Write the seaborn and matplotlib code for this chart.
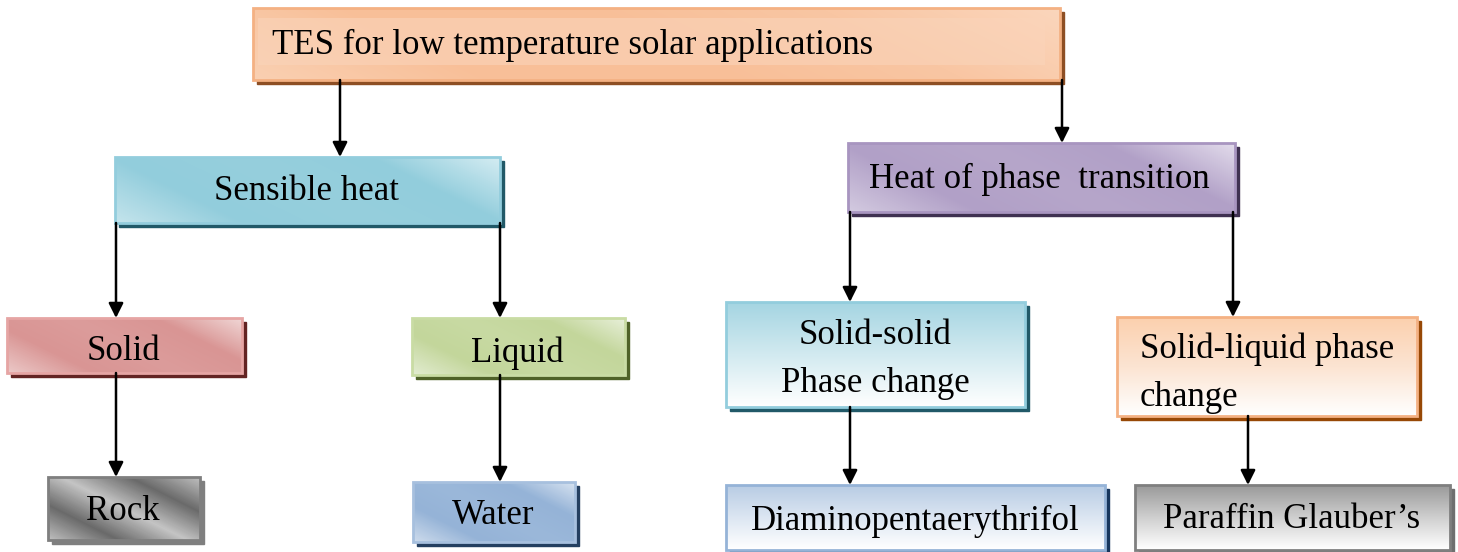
import seaborn as sns
import matplotlib.pyplot as plt
import numpy as np
from matplotlib.patches import Rectangle

# node labels and tree structure
node_ids = ["tes", "sensible", "phase", "solid", "liquid", "ss", "sl",
            "rock", "water", "diamino", "paraffin"]
node_labels = ["TES for low temperature solar applications", "Sensible heat",
               "Heat of phase  transition", "Solid", "Liquid",
               "Solid-solid\nPhase change", "Solid-liquid phase\nchange",
               "Rock", "Water", "Diaminopentaerythrifol", "Paraffin Glauber\u2019s"]
edges = [("tes", "sensible"), ("tes", "phase"),
         ("sensible", "solid"), ("sensible", "liquid"),
         ("phase", "ss"), ("phase", "sl"),
         ("solid", "rock"), ("liquid", "water"),
         ("ss", "diamino"), ("sl", "paraffin")]

# layout in pixels: x0, y0, width, height
layout = {
    "tes": (253, 8, 807, 72),
    "sensible": (115, 157, 385, 66),
    "phase": (848, 143, 387, 69),
    "solid": (7, 318, 235, 55),
    "liquid": (412, 318, 213, 57),
    "ss": (726, 302, 299, 105),
    "sl": (1117, 317, 300, 99),
    "rock": (48, 477, 152, 63),
    "water": (413, 482, 162, 60),
    "diamino": (726, 485, 379, 65),
    "paraffin": (1135, 485, 315, 65),
}
# arrow x position (from parent bottom to child top)
arrow_x = {"sensible": 340, "phase": 1062, "solid": 116, "liquid": 500,
           "ss": 850, "sl": 1233, "rock": 116, "water": 500,
           "diamino": 850, "paraffin": 1248}

# style: gradient stops, border, shadow, gradient kind
styles = {
    "tes": (["#FAD0B2", "#F8BF98", "#F8BF98", "#F9C6A3", "#FBD6BC"], "#F4B183", "#8E4F24", "diag"),
    "sensible": (["#C4E4EC", "#92CDDC", "#96CFDD", "#92CDDC", "#D4ECF2"], "#93CDDD", "#215968", "diag"),
    "phase": (["#D3CAE0", "#B1A0C7", "#B6A6CA", "#B1A0C7", "#E2DBEB"], "#A895C0", "#3F3151", "diag"),
    "solid": (["#EBC8C7", "#D99594", "#DC9C9B", "#D99594", "#F0D6D5"], "#E6A5A4", "#632423", "diag"),
    "liquid": (["#E2ECD0", "#C3D69B", "#C8DAA3", "#C3D69B", "#E7EFD8"], "#C9DCA4", "#4F6228", "diag"),
    "ss": (["#A5D5E2", "#D2EAF0", "#FFFFFF"], "#93CDDD", "#215968", "vert"),
    "sl": (["#FBD0AE", "#FCE4D2", "#FFFFFF"], "#F4B183", "#974806", "vert"),
    "rock": (["#BEBEBE", "#6A6A6A", "#C4C4C4", "#6A6A6A", "#BEBEBE"], "#7F7F7F", "#7F7F7F", "diag"),
    "water": (["#CDDBEC", "#95B3D7", "#9BB8DA", "#95B3D7", "#D6E2F0"], "#A7C0DE", "#243F60", "diag"),
    "diamino": (["#B8CCE4", "#DCE6F2", "#FFFFFF"], "#95B3D7", "#17365D", "vert"),
    "paraffin": (["#9A9A9A", "#CFCFCF", "#FFFFFF"], "#7F7F7F", "#6F6F6F", "vert"),
}
# text anchor and clip bottom
text_pos = {
    "tes": (272, 45, "left"), "sensible": (307, 191, "center"),
    "phase": (1039, 179, "center"), "solid": (123, 351, "center"),
    "liquid": (517, 353, "center"), "ss": (875, 359, "center"),
    "sl": (1140, 373, "left"), "rock": (123, 512, "center"),
    "water": (493, 516, "center"), "diamino": (915, 521, "center"),
    "paraffin": (1292, 520, "center"),
}
text_clip = {"liquid": 362, "ss": 393, "sl": 404}

sns.set_theme(style="white")
plt.rcParams["font.family"] = ["Liberation Serif", "DejaVu Serif"]

fig = plt.figure(figsize=(14.58, 5.52), dpi=100)
ax = fig.add_axes([0, 0, 1, 1])
ax.set_xlim(0, 1458)
ax.set_ylim(552, 0)
ax.axis("off")


def gradient(w, h, kind):
    xx, yy = np.meshgrid(np.linspace(0, 1, int(w)), np.linspace(0, 1, int(h)))
    if kind == "vert":
        return yy
    # 0 at lower left, 1 at upper right
    t = (xx * w + (1 - yy) * h * 2.0) / (w + h * 2.0)
    return np.clip(t, 0, 1)


def draw_box(key, label):
    x0, y0, w, h = layout[key]
    stops, border, shadow, kind = styles[key]
    ax.add_patch(Rectangle((x0 + 4, y0 + 4), w, h, color=shadow, zorder=1))
    cmap = sns.blend_palette(stops, as_cmap=True)
    g = gradient(w, h, kind)
    img = ax.imshow(g, cmap=cmap, vmin=0, vmax=1,
                    extent=(x0, x0 + w, y0 + h, y0),
                    aspect="auto", zorder=2, interpolation="bilinear")
    img.set_clip_path(Rectangle((x0, y0), w, h, transform=ax.transData))
    ax.add_patch(Rectangle((x0, y0), w, h, fill=False, edgecolor=border,
                           lw=2, zorder=3))
    if key == "tes":
        ax.add_patch(Rectangle((x0 + 5, y0 + 10), w - 20, h - 25,
                               color="#FAD4BA", alpha=0.6, zorder=2.5, lw=0))
    tx, ty, ha = text_pos[key]
    txt = ax.text(tx, ty, label, ha=ha, va="center", fontsize=25,
                  color="black", zorder=4, linespacing=1.6)
    bottom = text_clip.get(key, y0 + h)
    txt.set_clip_path(Rectangle((x0, y0), w, bottom - y0, transform=ax.transData))


for key, label in zip(node_ids, node_labels):
    draw_box(key, label)

for parent, child in edges:
    px, py, pw, ph = layout[parent]
    cx, cy, cw, ch = layout[child]
    x = arrow_x[child]
    ax.annotate("", xy=(x, cy), xytext=(x, py + ph),
                arrowprops=dict(arrowstyle="-|>", color="black", lw=1.8,
                                mutation_scale=22, shrinkA=0, shrinkB=0),
                zorder=5)

fig.savefig("out.png", dpi=100)
